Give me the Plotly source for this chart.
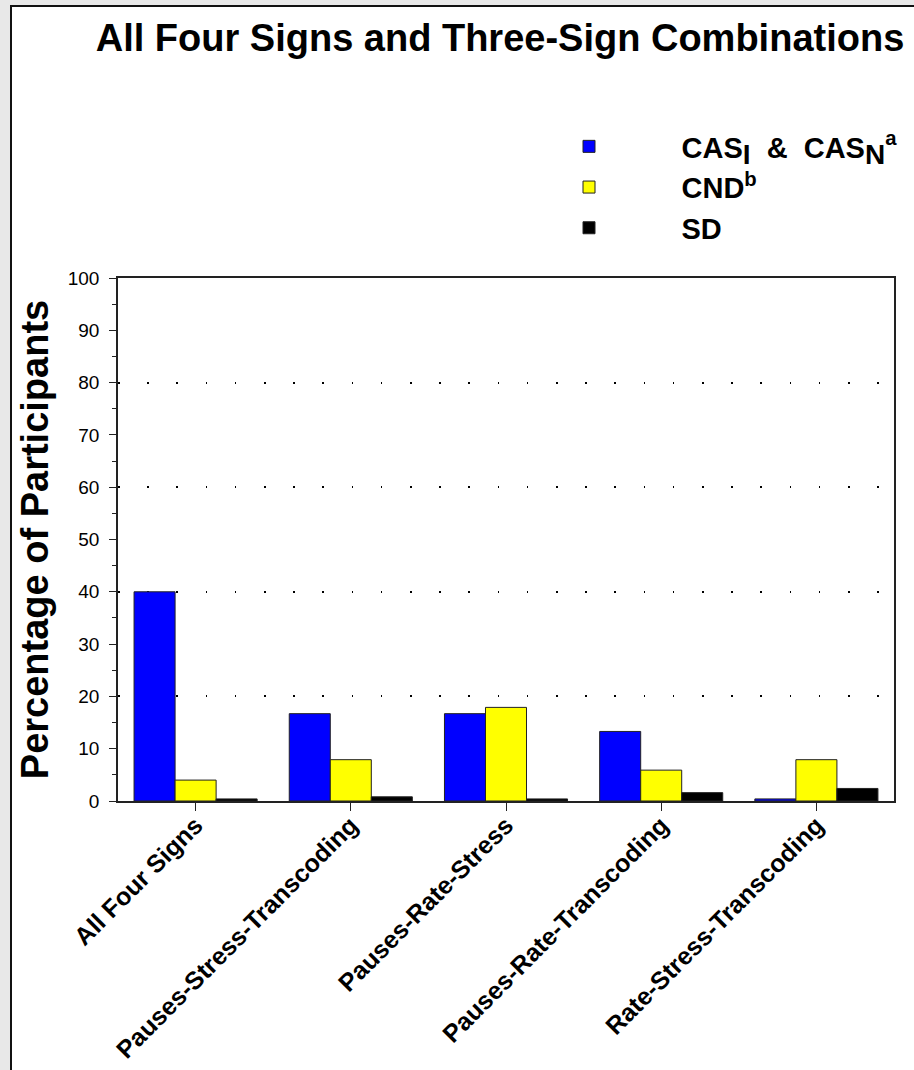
import plotly.graph_objects as go

CATEGORIES = ["All Four Signs", "Pauses-Stress-Transcoding", "Pauses-Rate-Stress",
              "Pauses-Rate-Transcoding", "Rate-Stress-Transcoding"]
CAS_VALUES = [40.0, 16.7, 16.7, 13.3, 0.4]
CND_VALUES = [4.0, 7.9, 17.9, 5.9, 7.9]
SD_VALUES = [0.4, 0.8, 0.4, 1.6, 2.4]
SERIES_NAMES = ["CAS<sub><span style='font-size:28px'>I</span></sub>&nbsp;&nbsp;&&nbsp;&nbsp;CAS<sub><span style='font-size:28px'>N</span></sub><sup>a</sup>",
                "CND<sup>b</sup>", "SD"]
SERIES_COLORS = ["#0000ff", "#ffff00", "#000000"]
Y_TICKS = [0, 10, 20, 30, 40, 50, 60, 70, 80, 90, 100]
GRID_VALUES = [20, 40, 60, 80]

FONT = "Liberation Sans, Arial, sans-serif"
PAD = "&nbsp;" * 9

fig = go.Figure()
for i, (name, vals, col) in enumerate(zip(SERIES_NAMES, [CAS_VALUES, CND_VALUES, SD_VALUES], SERIES_COLORS)):
    fig.add_trace(go.Bar(
        x=CATEGORIES, y=vals, name=PAD + name,
        marker=dict(color=col, line=dict(color="#222222", width=1)),
        legendgroup=f"g{i}",
    ))

# invisible helper trace for the dotted gridline axis
fig.add_trace(go.Scatter(x=CATEGORIES, y=[None] * len(CATEGORIES), yaxis="y2",
                         showlegend=False, hoverinfo="skip", mode="markers"))

L, R, T, B = 118, 20, 278, 269
W, H = 914, 1070
pw, ph = W - L - R, H - T - B

fig.update_layout(
    width=W, height=H,
    margin=dict(l=L, r=R, t=T, b=B, autoexpand=False),
    paper_bgcolor="#e8e8e8",
    plot_bgcolor="#ffffff",
    barmode="group", bargap=0.207, bargroupgap=0,
    font=dict(family=FONT, color="#000000"),
    title=dict(text="All Four Signs and Three-Sign Combinations",
               font=dict(family=FONT, size=38, weight="bold", color="#000000"),
               x=500 / W, xref="container", xanchor="center",
               y=1 - 38 / H, yref="container", yanchor="middle"),
    legend=dict(x=(569 - L) / pw, xanchor="left", y=(H - B - 121) / ph, yanchor="top",
                bgcolor="rgba(0,0,0,0)", borderwidth=0,
                font=dict(family=FONT, size=29, weight="bold", color="#000000"),
                tracegroupgap=22, traceorder="normal"),
    xaxis=dict(type="category", showline=True, mirror=True, linecolor="#222222", linewidth=1.5,
               ticks="outside", ticklen=8, tickcolor="#222222", tickwidth=1.2,
               ticklabelstandoff=-10,
               tickangle=-45, tickfont=dict(family=FONT, size=25, weight="bold", color="#000000"),
               showgrid=False, zeroline=False),
    yaxis=dict(range=[0, 100], tickvals=Y_TICKS, showline=True, mirror=True,
               linecolor="#222222", linewidth=1.5,
               ticks="outside", ticklen=7, tickcolor="#222222", tickwidth=1.2,
               ticklabelstandoff=6,
               minor=dict(dtick=5, ticks="outside", ticklen=4, tickcolor="#222222", tickwidth=1.2, showgrid=False),
               tickfont=dict(family=FONT, size=19, color="#000000"),
               showgrid=False, zeroline=False,
               title=dict(text="Percentage of Participants", standoff=7,
                          font=dict(family=FONT, size=38, weight="bold", color="#000000"))),
    yaxis2=dict(range=[0, 100], overlaying="y", side="left", tickvals=GRID_VALUES,
                showgrid=True, gridcolor="#000000", gridwidth=1.5, griddash="1.5px,27.7px",
                showticklabels=False, ticks="", showline=False, zeroline=False),
    shapes=[dict(type="rect", xref="paper", yref="paper",
                 x0=(11 - L) / pw, x1=1.2, y0=-0.7, y1=(H - B - 6) / ph,
                 fillcolor="#ffffff", line=dict(color="#111111", width=2), layer="below")],
    showlegend=True,
)

fig.write_html("out.html", config={"displayModeBar": False},
               post_script="document.body.style.margin='0px';document.body.style.background='#e8e8e8';")
